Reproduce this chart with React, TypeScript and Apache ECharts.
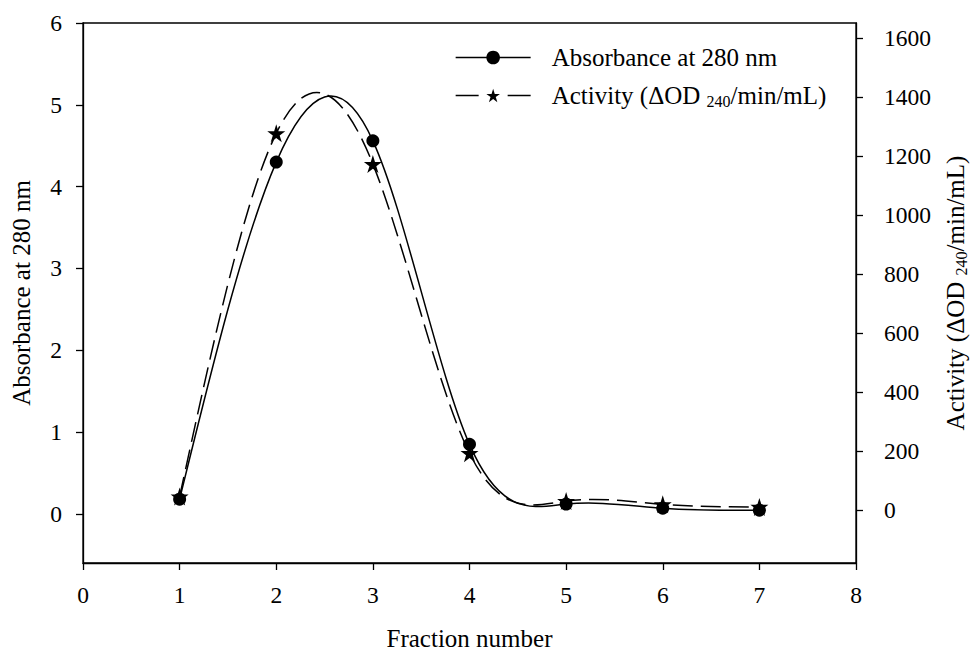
import React, { useEffect, useRef } from "react";
import * as echarts from "echarts";

// ---- data ----
const fractions = [1, 2, 3, 4, 5, 6, 7];
const absorbance = [0.18, 4.3, 4.56, 0.85, 0.12, 0.07, 0.045];
const activity = [45, 1276, 1172, 192, 30, 19, 10];

const xTicks = [0, 1, 2, 3, 4, 5, 6, 7, 8];
const leftTicks = [0, 1, 2, 3, 4, 5, 6];
const rightTicks = [0, 200, 400, 600, 800, 1000, 1200, 1400, 1600];

const ABS_NAME = "Absorbance at 280 nm";
const ACT_NAME = "Activity (ΔOD 240/min/mL)";
const ACT_RICH = "Activity (ΔOD {sub|240}/min/mL)";

const FONT = "Liberation Serif";
const FS_TICK = 23.5;
const FS_TITLE = 25;
const STAR =
  "path://M50 0 L61.2 34.5 L97.6 34.5 L68.2 55.9 L79.4 90.5 L50 69.1 L20.6 90.5 L31.8 55.9 L2.4 34.5 L38.8 34.5 Z";

let registered = false;
function registerSpline() {
  if (registered) return;
  registered = true;
  const Shape = (echarts.graphic as any).extendShape({
    type: "splineCurve",
    shape: { segs: [] as number[][] },
    buildPath(ctx: any, shape: any) {
      const s = shape.segs;
      if (!s || !s.length) return;
      ctx.moveTo(s[0][0], s[0][1]);
      for (const g of s) ctx.bezierCurveTo(g[2], g[3], g[4], g[5], g[6], g[7]);
    },
  });
  (echarts.graphic as any).registerShape("splineCurve", Shape);
}

// second derivatives of a natural cubic spline through the data points
function naturalM(xs: number[], ys: number[]) {
  const n = xs.length;
  const h: number[] = [];
  for (let i = 0; i < n - 1; i++) h.push(xs[i + 1] - xs[i]);
  const M = new Array(n).fill(0);
  const cp = new Array(n).fill(0);
  const dp = new Array(n).fill(0);
  for (let i = 1; i < n - 1; i++) {
    const a = h[i - 1];
    const b = 2 * (h[i - 1] + h[i]);
    const c = h[i];
    const d = 6 * ((ys[i + 1] - ys[i]) / h[i] - (ys[i] - ys[i - 1]) / h[i - 1]);
    const den = b - a * cp[i - 1];
    cp[i] = c / den;
    dp[i] = (d - a * dp[i - 1]) / den;
  }
  for (let i = n - 2; i >= 1; i--) M[i] = dp[i] - cp[i] * M[i + 1];
  return { M, h };
}

function curveSeries(xs: number[], ys: number[], yAxisIndex: number, dash: any) {
  return {
    type: "custom",
    name: "curve" + yAxisIndex,
    yAxisIndex,
    silent: true,
    z: 2,
    clip: false,
    data: xs.map((x, i) => [x, ys[i]]),
    renderItem: (params: any, api: any) => {
      if (params.dataIndex !== 0) return null;
      const n = xs.length;
      const { M, h } = naturalM(xs, ys);
      const segs: number[][] = [];
      for (let i = 0; i < n - 1; i++) {
        const hi = h[i];
        const sl = (ys[i + 1] - ys[i]) / hi;
        const s0 = sl - (hi * (2 * M[i] + M[i + 1])) / 6;
        const s1 = sl + (hi * (M[i] + 2 * M[i + 1])) / 6;
        const p0 = api.coord([xs[i], ys[i]]);
        const c1 = api.coord([xs[i] + hi / 3, ys[i] + (s0 * hi) / 3]);
        const c2 = api.coord([xs[i + 1] - hi / 3, ys[i + 1] - (s1 * hi) / 3]);
        const p1 = api.coord([xs[i + 1], ys[i + 1]]);
        segs.push([p0[0], p0[1], c1[0], c1[1], c2[0], c2[1], p1[0], p1[1]]);
      }
      return {
        type: "splineCurve",
        shape: { segs },
        style: { fill: "none", stroke: "#000", lineWidth: 1.5, lineDash: dash },
      };
    },
  };
}

const subRich = {
  sub: { fontSize: 16, fontFamily: FONT, color: "#000", verticalAlign: "bottom", lineHeight: 10 },
};

export default function App() {
  const ref = useRef<HTMLDivElement>(null);
  useEffect(() => {
    if (!ref.current) return;
    registerSpline();
    const chart = echarts.init(ref.current, null, { renderer: "svg" });
    const axisLine = { show: true, onZero: false, lineStyle: { color: "#000", width: 1.3 } };
    const tick = (vals: number[]) => ({
      show: true,
      length: 7,
      lineStyle: { color: "#000", width: 1.3 },
      customValues: vals,
    });
    const label = (vals: number[], margin: number) => ({
      margin,
      fontFamily: FONT,
      fontSize: FS_TICK,
      color: "#000",
      customValues: vals,
      formatter: (v: number) => String(v),
    });
    chart.setOption({
      animation: false,
      backgroundColor: "#fff",
      grid: {
        left: 83,
        right: 119,
        top: 23,
        bottom: 89,
        outerBoundsMode: "none",
        containLabel: false,
        show: true,
        borderColor: "#000",
        borderWidth: 1.3,
      },
      legend: {
        orient: "vertical",
        left: 455,
        top: 44,
        padding: 0,
        itemWidth: 75,
        itemHeight: 17,
        itemGap: 11,
        selectedMode: false,
        data: [
          { name: ABS_NAME, lineStyle: { opacity: 1, width: 1.3, color: "#000", type: "solid" } },
          { name: ACT_NAME, lineStyle: { opacity: 1, width: 1.3, color: "#000", type: [23, 29] } },
        ],
        formatter: (name: string) => (name === ACT_NAME ? ACT_RICH : name),
        textStyle: {
          fontFamily: FONT,
          fontSize: FS_TITLE,
          color: "#000",
          lineHeight: 27,
          padding: [0, 0, 0, 16],
          rich: subRich,
        },
      },
      xAxis: {
        type: "value",
        min: 0,
        max: 8,
        interval: 1,
        name: "Fraction number",
        nameLocation: "middle",
        nameGap: 63,
        nameTextStyle: { fontFamily: FONT, fontSize: FS_TITLE, color: "#000" },
        axisLine,
        axisTick: tick(xTicks),
        axisLabel: label(xTicks, 20),
        splitLine: { show: false },
      },
      yAxis: [
        {
          type: "value",
          min: -0.6,
          max: 6,
          position: "left",
          name: ABS_NAME,
          nameLocation: "middle",
          nameRotate: 90,
          nameGap: 49,
          nameTextStyle: { fontFamily: FONT, fontSize: FS_TITLE, color: "#000" },
          axisLine,
          axisTick: tick(leftTicks),
          axisLabel: label(leftTicks, 21),
          splitLine: { show: false },
        },
        {
          type: "value",
          min: -180,
          max: 1650,
          position: "right",
          name: ACT_RICH,
          nameLocation: "middle",
          nameRotate: 90,
          nameGap: 86,
          nameTextStyle: { fontFamily: FONT, fontSize: FS_TITLE, color: "#000", lineHeight: 27, rich: subRich },
          axisLine,
          axisTick: tick(rightTicks),
          axisLabel: label(rightTicks, 28),
          splitLine: { show: false },
        },
      ],
      series: [
        curveSeries(fractions, absorbance, 0, null),
        curveSeries(fractions, activity, 1, [20, 8]),
        {
          type: "line",
          name: ABS_NAME,
          yAxisIndex: 0,
          data: fractions.map((x, i) => [x, absorbance[i]]),
          symbol: "circle",
          symbolSize: 13,
          showAllSymbol: true,
          itemStyle: { color: "#000" },
          lineStyle: { opacity: 0, color: "#000" },
          z: 5,
          silent: true,
        },
        {
          type: "line",
          name: ACT_NAME,
          yAxisIndex: 1,
          data: fractions.map((x, i) => [x, activity[i]]),
          symbol: STAR,
          symbolSize: 18,
          showAllSymbol: true,
          itemStyle: { color: "#000" },
          lineStyle: { opacity: 0, color: "#000", type: "dashed" },
          z: 6,
          silent: true,
        },
      ],
    });
    return () => chart.dispose();
  }, []);
  return (
    <div
      ref={ref}
      style={{ position: "absolute", left: 0, top: 0, width: 975, height: 652, background: "#fff" }}
    />
  );
}
